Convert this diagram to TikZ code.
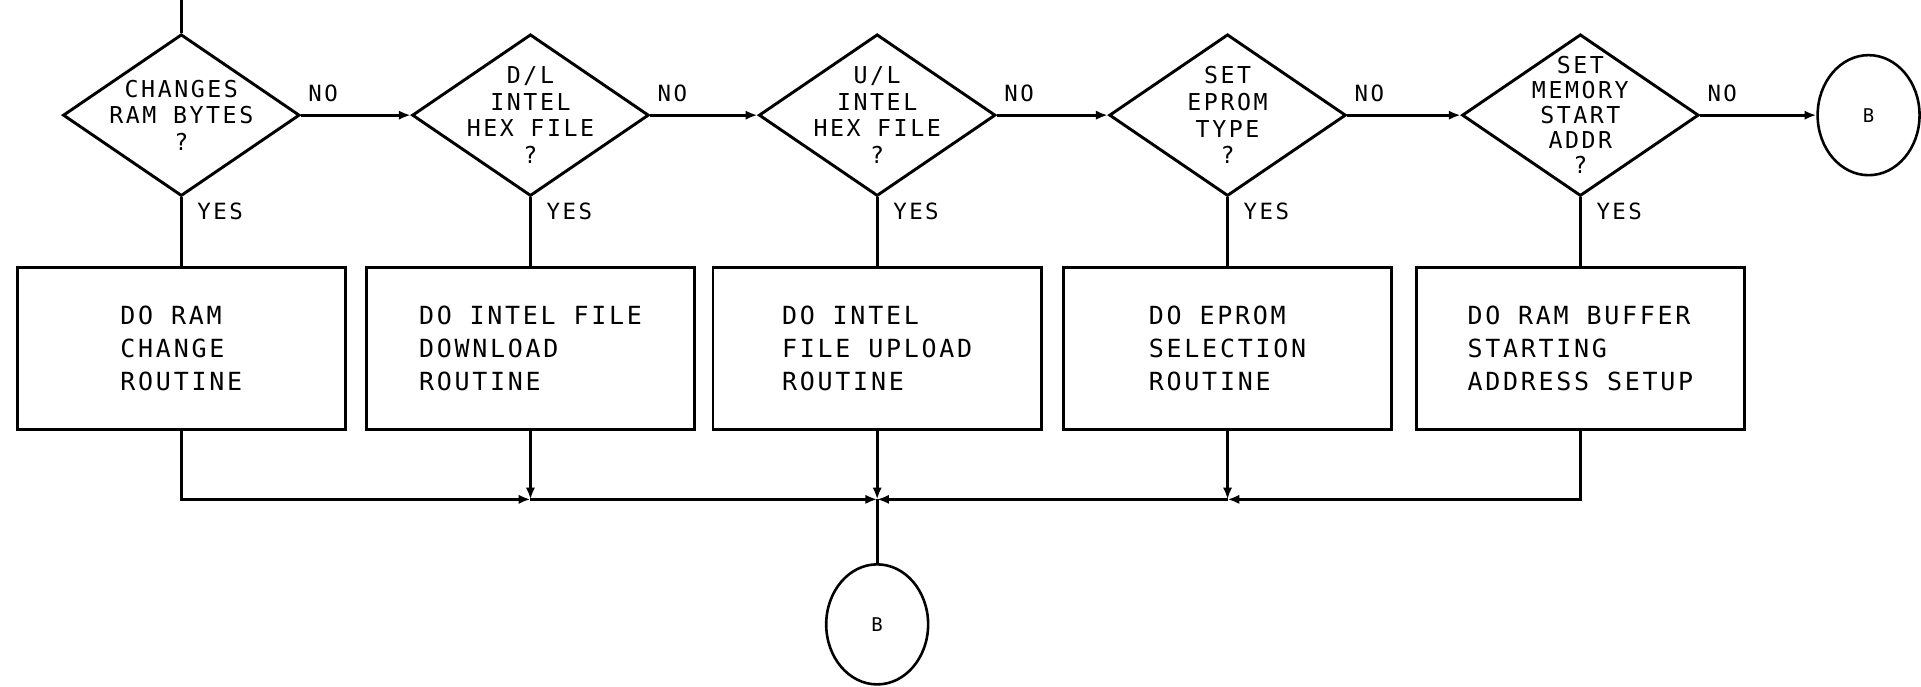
\documentclass[tikz,border=0pt]{standalone}
\usepackage{fontspec}
\usepackage{tikz}
\usetikzlibrary{arrows.meta,positioning,shapes.geometric}
\newfontfamily\chartfont[LetterSpace=11]{DejaVu Sans Mono}

\begin{document}
\begin{tikzpicture}[
  font=\chartfont,
  decision/.style={draw, diamond, aspect=1.46, line width=1.7pt, minimum width=4.83cm, minimum height=3.3cm, align=center, inner xsep=-0.8cm, inner ysep=-1cm, font=\chartfont\fontsize{13.5}{15.5}\selectfont},
  routine/.style={draw, rectangle, line width=1.7pt, minimum width=6.7cm, minimum height=3.3cm, align=left, font=\chartfont\fontsize{14.5}{19}\selectfont},
  offpage/.style={draw, ellipse, line width=1.5pt, minimum width=2.08cm, minimum height=2.45cm, inner sep=0pt, font=\chartfont\fontsize{11}{12}\selectfont},
  flow/.style={-{Latex[length=2.4mm,width=1.9mm]}, line width=1.7pt},
  line/.style={line width=1.7pt},
  lbl/.style={font=\chartfont\fontsize{13}{14}\selectfont, inner sep=0pt},
]
\useasboundingbox (0,0) rectangle (39.2,-14);

\node[decision] (chgram) at (3.7,-2.35) {CHANGES\\RAM BYTES\\?};
\node[decision, right=2.235cm of chgram] (dlhex) {D/L\\INTEL\\HEX FILE\\?};
\node[decision, right=2.185cm of dlhex] (ulhex) {U/L\\INTEL\\HEX FILE\\?};
\node[decision, right=2.26cm of ulhex] (eprom) {SET\\EPROM\\TYPE\\?};
\node[decision, right=2.31cm of eprom, font=\chartfont\fontsize{13.5}{14.5}\selectfont] (memaddr) {SET\\MEMORY\\START\\ADDR\\?};
\node[offpage, right=2.37cm of memaddr] (bright) {B};

\node[routine, below=1.4cm of chgram] (ramchg) {DO RAM\\CHANGE\\ROUTINE};
\node[routine, below=1.4cm of dlhex] (dlrout) {DO INTEL FILE\\DOWNLOAD\\ROUTINE};
\node[routine, below=1.4cm of ulhex] (ulrout) {DO INTEL\\FILE UPLOAD\\ROUTINE};
\node[routine, below=1.4cm of eprom] (epromrout) {DO EPROM\\SELECTION\\ROUTINE};
\node[routine, below=1.4cm of memaddr] (addrrout) {DO RAM BUFFER\\STARTING\\ADDRESS SETUP};

\coordinate[below=1.4cm of ulrout] (merge);
\node[offpage, below=1.3cm of merge] (bbottom) {B};
\coordinate (entry) at (chgram |- 0,0);

% decision chain
\draw[line] (entry) -- (chgram.north);
\draw[flow] (chgram.east) -- node[lbl, pos=0, above right=0.25cm and 0.12cm] {NO} (dlhex.west);
\draw[flow] (dlhex.east) -- node[lbl, pos=0, above right=0.25cm and 0.12cm] {NO} (ulhex.west);
\draw[flow] (ulhex.east) -- node[lbl, pos=0, above right=0.25cm and 0.12cm] {NO} (eprom.west);
\draw[flow] (eprom.east) -- node[lbl, pos=0, above right=0.25cm and 0.12cm] {NO} (memaddr.west);
\draw[flow] (memaddr.east) -- node[lbl, pos=0, above right=0.25cm and 0.12cm] {NO} (bright.west);

\draw[line] (chgram.south) -- node[lbl, pos=0, below right=0.08cm and 0.3cm] {YES} (ramchg.north);
\draw[line] (dlhex.south) -- node[lbl, pos=0, below right=0.08cm and 0.3cm] {YES} (dlrout.north);
\draw[line] (ulhex.south) -- node[lbl, pos=0, below right=0.08cm and 0.3cm] {YES} (ulrout.north);
\draw[line] (eprom.south) -- node[lbl, pos=0, below right=0.08cm and 0.3cm] {YES} (epromrout.north);
\draw[line] (memaddr.south) -- node[lbl, pos=0, below right=0.08cm and 0.3cm] {YES} (addrrout.north);

% return bus
\draw[flow] (ramchg.south) |- (dlrout.south |- merge);
\draw[flow] (dlrout.south) -- (dlrout.south |- merge);
\draw[flow] (dlrout.south |- merge) -- (merge);
\draw[flow] (ulrout.south) -- (merge);
\draw[flow] (addrrout.south) |- (epromrout.south |- merge);
\draw[flow] (epromrout.south) -- (epromrout.south |- merge);
\draw[flow] (epromrout.south |- merge) -- (merge);
\draw[line] (merge) -- (bbottom.north);
\end{tikzpicture}
\end{document}
